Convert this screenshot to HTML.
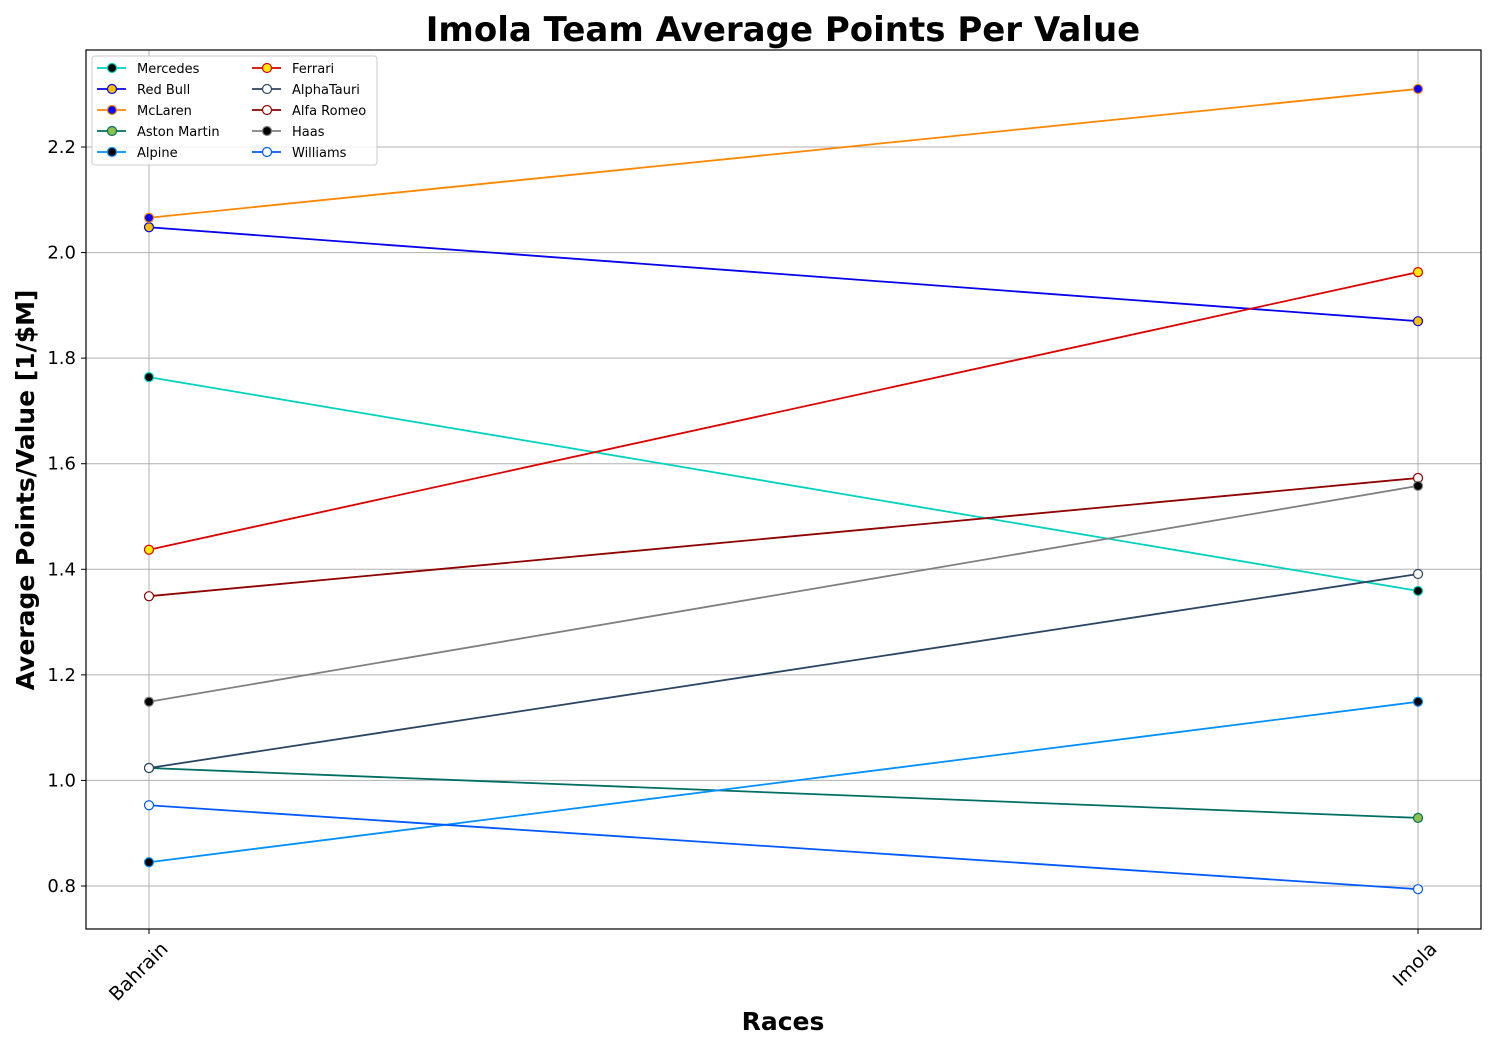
<!DOCTYPE html>
<html><head><meta charset="utf-8"><style>
body{margin:0;background:#fff;}
svg{font-family:"DejaVu Sans","Liberation Sans",sans-serif;}
</style></head><body>
<svg id="chart" width="1500" height="1050" xmlns="http://www.w3.org/2000/svg">
<text x="783" y="41" text-anchor="middle" font-size="34" font-weight="bold">Imola Team Average Points Per Value</text>
<g id="grid"></g>
<g id="series"></g>
<rect x="86" y="50" width="1395" height="879" fill="none" stroke="#000" stroke-width="1.2"/>
<g id="ticks"></g>
<text x="783" y="1030" text-anchor="middle" font-size="25" font-weight="bold">Races</text>
<text transform="translate(34,490) rotate(-90)" text-anchor="middle" font-size="25" font-weight="bold">Average Points/Value [1/$M]</text>
<g id="legend"></g>
</svg>
<script>
const categories=["Bahrain","Imola"];
const teams=["Mercedes","Red Bull","McLaren","Aston Martin","Alpine","Ferrari","AlphaTauri","Alfa Romeo","Haas","Williams"];
const mercedes=[1.764,1.359];
const redBull=[2.048,1.870];
const mclaren=[2.066,2.310];
const astonMartin=[1.0235,0.929];
const alpine=[0.845,1.149];
const ferrari=[1.437,1.963];
const alphaTauri=[1.0235,1.391];
const alfaRomeo=[1.349,1.573];
const haas=[1.149,1.558];
const williams=[0.953,0.794];
const yTicks=[0.8,1.0,1.2,1.4,1.6,1.8,2.0,2.2];
const seriesValues=[mercedes,redBull,mclaren,astonMartin,alpine,ferrari,alphaTauri,alfaRomeo,haas,williams];
const lineColors=["#00d2be","#0600ef","#ff8700","#006f62","#0090ff","#dc0000","#2b4562","#900000","#808080","#005aff"];
const faceColors=["#000","#ffc000","#0000ff","#8bc34a","#000","#ffee00","#fff","#fff","#000","#fff"];
const NS="http://www.w3.org/2000/svg";
function X(i){return 149+i*(1418-149)/(categories.length-1);}
function Y(v){return 886-(v-0.8)*(886-147)/1.4;}
function mk(tag,attrs,parent){const e=document.createElementNS(NS,tag);for(const k in attrs)e.setAttribute(k,attrs[k]);parent.appendChild(e);return e;}
const grid=document.getElementById('grid'),ticks=document.getElementById('ticks'),ser=document.getElementById('series'),leg=document.getElementById('legend');
yTicks.forEach(t=>{
 const l=mk('line',{x1:86,x2:1481,y1:Y(t),y2:Y(t),stroke:'#b0b0b0','stroke-width':1},grid);
 
 
 mk('line',{x1:81,x2:86,y1:Y(t),y2:Y(t),stroke:'#000'},ticks);
 const tx=mk('text',{x:76,y:Y(t)+6,'text-anchor':'end','font-size':18},ticks);
 tx.textContent=t.toFixed(1);
 
 
});
categories.forEach((c,i)=>{
 const l=mk('line',{x1:X(i),x2:X(i),y1:50,y2:929,stroke:'#b0b0b0','stroke-width':1},grid);
 
 
 mk('line',{x1:X(i),x2:X(i),y1:929,y2:934,stroke:'#000'},ticks);
 const tx=mk('text',{x:X(i)+20,y:950,'text-anchor':'end','font-size':19,transform:`rotate(-45 ${X(i)+20} 950)`},ticks);
 tx.textContent=c;
 
 
});
seriesValues.forEach((vals,s)=>{
 const g=mk('g',{},ser);
 
 
 const pts=vals.map((v,i)=>X(i)+','+Y(v)).join(' ');
 mk('polyline',{points:pts,fill:'none',stroke:lineColors[s],'stroke-width':1.8},g);
 vals.forEach((v,i)=>{
  const c=mk('circle',{cx:X(i),cy:Y(v),r:4.5,fill:faceColors[s],stroke:lineColors[s],'stroke-width':1.2},g);
  
  
 });
});
const lb=mk('rect',{x:92,y:56,width:285,height:109,rx:3,fill:'#fff','fill-opacity':0.8,stroke:'#ccc'},leg);


teams.forEach((t,s)=>{
 const col=s<5?0:1,row=s%5;
 const x0=col?252:97,y0=68+row*21;
 const g=mk('g',{},leg);
 
 
 mk('line',{x1:x0,x2:x0+29,y1:y0,y2:y0,stroke:lineColors[s],'stroke-width':1.8},g);
 mk('circle',{cx:x0+15,cy:y0,r:4.5,fill:faceColors[s],stroke:lineColors[s],'stroke-width':1.2},g);
 const tx=mk('text',{x:x0+40,y:y0+5,'font-size':13},g);
 tx.textContent=t;
});
</script>
</body></html>
